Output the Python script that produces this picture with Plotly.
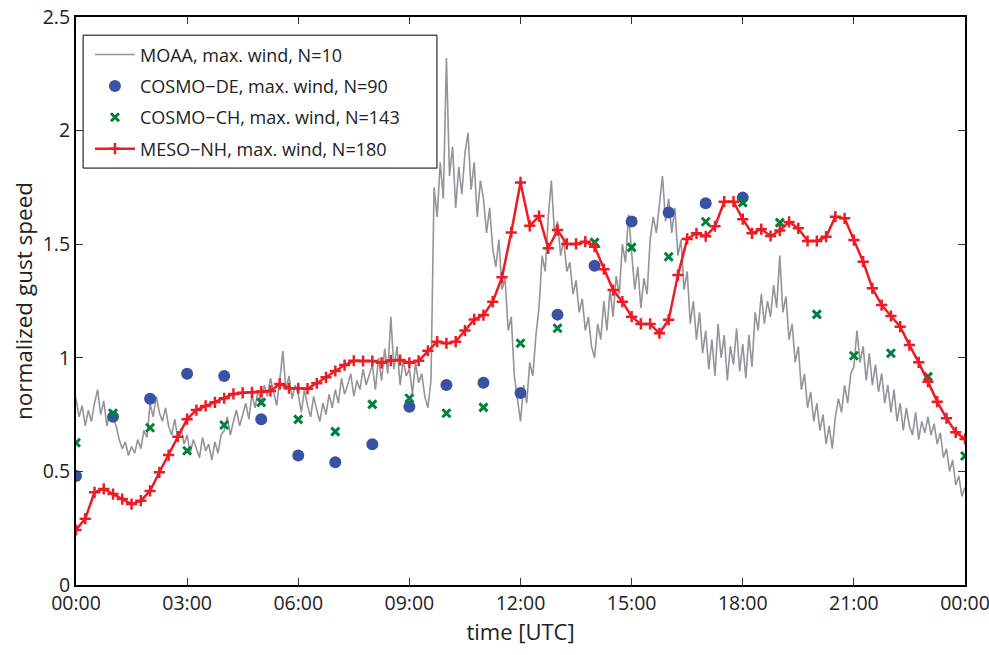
import plotly.graph_objects as go

# ---- observations: MOAA maximum wind, 5-minute steps from 00:00 to 24:00 (hours) ----
moaa_rows = [
    [0.82, 0.74, 0.79, 0.70, 0.77, 0.72, 0.80, 0.86, 0.75, 0.81, 0.70, 0.76],
    [0.74, 0.70, 0.64, 0.60, 0.63, 0.57, 0.61, 0.58, 0.64, 0.60, 0.68, 0.65],
    [0.80, 0.74, 0.83, 0.76, 0.72, 0.78, 0.70, 0.66, 0.73, 0.64, 0.69, 0.62],
    [0.66, 0.58, 0.64, 0.60, 0.56, 0.65, 0.59, 0.62, 0.55, 0.63, 0.58, 0.66],
    [0.68, 0.74, 0.66, 0.72, 0.77, 0.70, 0.75, 0.80, 0.73, 0.84, 0.78, 0.86],
    [0.80, 0.88, 0.83, 0.91, 0.85, 0.79, 0.90, 1.03, 0.86, 0.92, 0.82, 0.88],
    [0.84, 0.76, 0.86, 0.79, 0.74, 0.83, 0.77, 0.72, 0.80, 0.75, 0.84, 0.78],
    [0.86, 0.80, 0.91, 0.84, 0.88, 0.93, 0.83, 0.90, 0.86, 0.95, 0.88, 0.92],
    [0.97, 0.86, 1.00, 0.90, 1.04, 0.93, 1.18, 0.95, 1.05, 0.88, 0.99, 0.92],
    [0.95, 0.84, 0.98, 0.89, 0.93, 0.83, 0.78, 0.90, 1.75, 1.62, 1.86, 1.70],
    [2.32, 1.80, 1.93, 1.66, 1.84, 1.72, 1.90, 1.99, 1.74, 1.86, 1.62, 1.78],
    [1.70, 1.55, 1.66, 1.48, 1.40, 1.52, 1.30, 1.35, 1.12, 1.18, 0.92, 0.82],
    [0.72, 0.88, 0.80, 0.98, 0.92, 1.10, 1.22, 1.45, 1.38, 1.62, 1.78, 1.55],
    [1.60, 1.45, 1.52, 1.38, 1.42, 1.28, 1.34, 1.20, 1.26, 1.12, 1.18, 1.05],
    [1.00, 1.15, 1.08, 1.25, 1.12, 1.30, 1.18, 1.36, 1.28, 1.50, 1.42, 1.63],
    [1.45, 1.30, 1.40, 1.22, 1.35, 1.28, 1.52, 1.62, 1.55, 1.68, 1.80, 1.60],
    [1.70, 1.55, 1.66, 1.45, 1.52, 1.30, 1.38, 1.15, 1.25, 1.08, 1.20, 1.02],
    [1.12, 0.95, 1.08, 0.92, 1.15, 1.00, 1.10, 0.90, 1.05, 0.97, 1.13, 0.94],
    [1.06, 0.91, 1.10, 0.96, 1.20, 1.12, 1.28, 1.15, 1.25, 1.18, 1.32, 1.22],
    [1.45, 1.20, 1.27, 1.08, 1.15, 0.98, 1.05, 0.86, 0.93, 0.78, 0.85, 0.72],
    [0.80, 0.68, 0.75, 0.62, 0.70, 0.60, 0.74, 0.82, 0.76, 0.88, 0.80, 0.93],
    [0.96, 1.12, 0.98, 1.05, 0.90, 1.02, 0.88, 0.97, 0.85, 0.93, 0.80, 0.88],
    [0.76, 0.86, 0.72, 0.80, 0.68, 0.78, 0.70, 0.66, 0.76, 0.64, 0.72, 0.67],
    [0.74, 0.66, 0.71, 0.62, 0.67, 0.56, 0.60, 0.50, 0.55, 0.44, 0.48, 0.39],
]
moaa_last = [0.43]
moaa_values = [v for row in moaa_rows for v in row] + moaa_last
moaa_hours = [i / 12 for i in range(len(moaa_values))]

# ---- COSMO-DE, hourly 00-18 UTC ----
cosmo_de_hours = list(range(0, 19))
cosmo_de_values = [0.48, 0.74, 0.82, 0.93, 0.92, 0.73, 0.57, 0.54, 0.62, 0.785,
                   0.88, 0.89, 0.845, 1.19, 1.405, 1.60, 1.64, 1.68, 1.705]

# ---- COSMO-CH, hourly 00-24 UTC ----
cosmo_ch_hours = list(range(0, 25))
cosmo_ch_values = [0.626, 0.756, 0.692, 0.591, 0.704, 0.804, 0.729, 0.675, 0.795,
                   0.822, 0.756, 0.782, 1.064, 1.13, 1.508, 1.486, 1.445, 1.599,
                   1.683, 1.595, 1.191, 1.009, 1.02, 0.917, 0.568]

# ---- MESO-NH, 15-minute steps 00-24 UTC ----
meso_nh_values = [
    0.242, 0.292, 0.408, 0.423, 0.400, 0.378, 0.356, 0.371,
    0.414, 0.496, 0.572, 0.653, 0.730, 0.770, 0.788, 0.804,
    0.822, 0.841, 0.846, 0.848, 0.851, 0.854, 0.885, 0.866,
    0.866, 0.864, 0.888, 0.914, 0.942, 0.968, 0.987, 0.986,
    0.986, 0.978, 0.988, 0.990, 0.978, 0.987, 1.031, 1.071,
    1.064, 1.071, 1.120, 1.169, 1.188, 1.247, 1.354, 1.552,
    1.772, 1.581, 1.624, 1.482, 1.562, 1.501, 1.501, 1.511,
    1.489, 1.390, 1.298, 1.247, 1.181, 1.149, 1.149, 1.108,
    1.168, 1.364, 1.523, 1.548, 1.535, 1.579, 1.687, 1.687,
    1.610, 1.548, 1.566, 1.536, 1.560, 1.598, 1.570, 1.514,
    1.514, 1.533, 1.621, 1.614, 1.518, 1.423, 1.306, 1.232,
    1.184, 1.137, 1.056, 0.980, 0.895, 0.807, 0.734, 0.672,
    0.643,
]
meso_nh_hours = [i / 4 for i in range(len(meso_nh_values))]

tick_hours = [0, 3, 6, 9, 12, 15, 18, 21, 24]
tick_labels = ["00:00", "03:00", "06:00", "09:00", "12:00", "15:00", "18:00", "21:00", "00:00"]
y_ticks = [0, 0.5, 1, 1.5, 2, 2.5]
y_tick_labels = ["0", "0.5", "1", "1.5", "2", "2.5"]

FONT = "Open Sans"
TEXT = "#222"

fig = go.Figure()

fig.add_trace(go.Scatter(
    x=moaa_hours, y=moaa_values, mode="lines",
    name="MOAA, max. wind, N=10", legendgroup="a",
    line=dict(color="#949499", width=1.6),
))
fig.add_trace(go.Scatter(
    x=cosmo_de_hours, y=cosmo_de_values, mode="markers",
    name="COSMO\u2212DE, max. wind, N=90", legendgroup="b",
    marker=dict(symbol="circle", size=12, color="#3953a4", line=dict(width=0)),
))
fig.add_trace(go.Scatter(
    x=cosmo_ch_hours, y=cosmo_ch_values, mode="markers",
    name="COSMO\u2212CH, max. wind, N=143", legendgroup="c",
    marker=dict(symbol="x-thin", size=8, color="#00803c",
                line=dict(width=3, color="#00803c")),
))
fig.add_trace(go.Scatter(
    x=meso_nh_hours, y=meso_nh_values, mode="lines+markers",
    name="MESO\u2212NH, max. wind, N=180", legendgroup="d",
    line=dict(color="#ed1c24", width=2.5),
    marker=dict(symbol="cross-thin", size=8, color="#ed1c24",
                line=dict(width=2.5, color="#ed1c24")),
))

axis_common = dict(
    showgrid=False, zeroline=False, automargin=False,
    showline=True, linecolor="black", linewidth=2, mirror="ticks",
    ticks="inside", ticklen=7, tickwidth=1, tickcolor="#333",
    ticklabeloverflow="allow",
    tickfont=dict(family=FONT, size=19.5, color=TEXT),
)

fig.update_xaxes(
    range=[0, 24], tickvals=tick_hours, ticktext=tick_labels,
    title=dict(text="time [UTC]", font=dict(family=FONT, size=22, color=TEXT), standoff=8),
    **axis_common,
)
fig.update_yaxes(
    range=[0, 2.5], tickvals=y_ticks, ticktext=y_tick_labels,
    title=dict(text="normalized gust speed", font=dict(family=FONT, size=22.5, color=TEXT), standoff=4),
    **axis_common,
)

fig.update_layout(
    width=989, height=655,
    margin=dict(l=76, r=24, t=17, b=70),
    paper_bgcolor="white", plot_bgcolor="white",
    showlegend=True,
    legend=dict(
        x=0.0157, y=0.966, xanchor="left", yanchor="top",
        bgcolor="rgba(0,0,0,0)", borderwidth=0,
        font=dict(family=FONT, size=18, color=TEXT),
        tracegroupgap=5, itemwidth=40,
    ),
    shapes=[dict(
        type="rect", xref="paper", yref="paper",
        x0=0.008, x1=0.406, y0=0.734, y1=0.968,
        line=dict(color="black", width=1), fillcolor="rgba(0,0,0,0)", layer="above",
    )],
)

fig.write_html("out.html")
